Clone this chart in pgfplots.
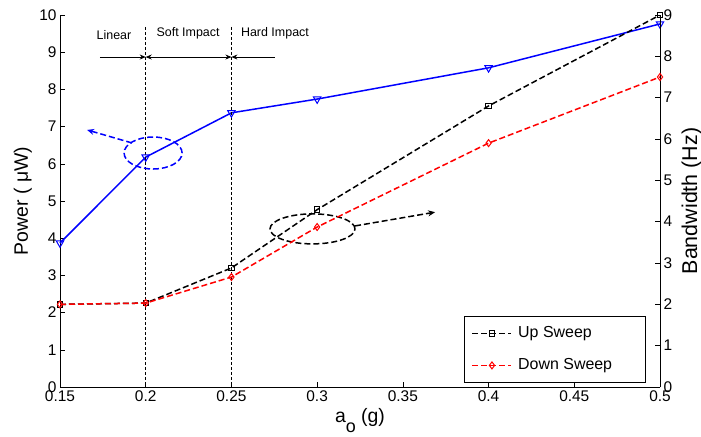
\documentclass[border=0pt]{standalone}
\usepackage{fontspec}
\setmainfont{Liberation Sans}
\usepackage{pgfplots}
\pgfplotsset{compat=1.18}
\usetikzlibrary{arrows.meta}

\definecolor{mblue}{RGB}{0,0,255}
\definecolor{mred}{RGB}{255,0,0}

\tikzset{mdash/.style={dash pattern=on 6bp off 3bp}}

\pgfplotsset{
  common/.style={
    scale only axis,
    width=600bp, height=372bp,
    xmin=0.15, xmax=0.5,
    tick align=inside,
    major tick length=5bp,
    tick style={black, line width=0.5bp},
    axis line style={black, line width=0.6bp},
    /pgf/number format/assume math mode=true,
    tick label style={font=\fontsize{15.5}{17}\selectfont},
  },
}

\begin{document}
\begin{tikzpicture}
% Power on the left axis
\begin{axis}[
  common,
  axis x line*=bottom, axis y line*=left,
  ymin=0, ymax=10,
  ytick={0,1,...,10},
  xtick={0.15,0.2,0.25,0.3,0.35,0.4,0.45,0.5},
  xticklabels={0.15,0.2,0.25,0.3,0.35,0.4,0.45,0.5},
  xlabel={a\raisebox{-0.55em}{\fontsize{18}{20}\selectfont o} (g)},
  xlabel style={font=\fontsize{19.5}{22}\selectfont,
    at={(axis description cs:0.5,0)}, anchor=base, yshift=-35bp},
  ylabel={Power ( μW)},
  % the label is rotated, so its own y points to the left
  ylabel style={font=\fontsize{19.5}{22}\selectfont,
    at={(axis description cs:0,0.5)}, anchor=base, yshift=32bp},
  clip=false,
]
\addplot[mblue, line width=1.5bp, mark=triangle, mark size=4.3bp,
  mark options={solid, rotate=180, line width=1bp}]
  coordinates {(0.15,3.87) (0.2,6.18) (0.25,7.37) (0.3,7.74) (0.4,8.58) (0.5,9.76)};

% regime boundaries
\draw[black, line width=0.7bp, dash pattern=on 3bp off 2bp]
  (axis cs:0.2,9.68) -- (axis cs:0.2,0);
\draw[black, line width=0.7bp, dash pattern=on 3bp off 2bp]
  (axis cs:0.25,9.68) -- (axis cs:0.25,0);
\draw[-{Stealth[length=6bp,width=5bp]}, line width=0.7bp]
  (axis cs:0.1733,8.87) -- (axis cs:0.2,8.87);
\draw[{Stealth[length=6bp,width=5bp]}-{Stealth[length=6bp,width=5bp]}, line width=0.7bp]
  (axis cs:0.2,8.87) -- (axis cs:0.25,8.87);
\draw[-{Stealth[length=6bp,width=5bp]}, line width=0.7bp]
  (axis cs:0.2754,8.87) -- (axis cs:0.25,8.87);
\begin{scope}[font=\fontsize{12.5}{14}\selectfont]
\node at (axis cs:0.1815,9.46) {Linear};
\node at (axis cs:0.2247,9.50) {Soft Impact};
\node at (axis cs:0.2754,9.50) {Hard Impact};
\end{scope}

% callouts pointing to the matching axis
\draw[mblue, line width=1.5bp, mdash] (axis cs:0.2043,6.29) ellipse [x radius=29bp, y radius=16bp];
\draw[mblue, line width=1.5bp, mdash, -{Stealth[length=7bp,width=6bp]}]
  (axis cs:0.192,6.56) -- (axis cs:0.1658,6.91);
\draw[black, line width=1.5bp, mdash] (axis cs:0.2973,4.25) ellipse [x radius=42.5bp, y radius=15bp];
\draw[black, line width=1.5bp, mdash, -{Stealth[length=7bp,width=6bp]}]
  (axis cs:0.3221,4.33) -- (axis cs:0.3688,4.70);
\end{axis}

% Bandwidth on the right axis
\begin{axis}[
  common,
  axis x line=none, axis y line*=right,
  ymin=0, ymax=9,
  ytick={0,1,...,9},
  ylabel={Bandwidth (Hz)},
  ylabel style={font=\fontsize{21.5}{24}\selectfont,
    at={(axis description cs:1,0.5)}, anchor=base, yshift=-37bp},
  legend style={at={(rel axis cs:0.9767,0.01075)}, anchor=south east,
    draw=black, line width=0.6bp, font=\fontsize{16}{18}\selectfont,
    inner xsep=7bp, inner ysep=9.5bp, row sep=16.5bp, column sep=6bp,
    nodes={inner sep=0pt, text height=12bp, text depth=3.5bp}},
  legend cell align=left,
  legend image code/.code={
    \draw[mark repeat=2, mark phase=2, #1] plot coordinates {(0bp,0bp) (19.5bp,0bp) (39bp,0bp)};
  },
]
\addplot[black, line width=1.5bp, mdash, mark=square, mark size=2.7bp,
  mark options={solid, line width=1bp}]
  coordinates {(0.15,2.0) (0.2,2.03) (0.25,2.88) (0.3,4.29) (0.4,6.80) (0.5,9.0)};
\addlegendentry{\makebox[120.5bp][l]{Up Sweep}}
\addplot[mred, line width=1.5bp, mdash, mark=diamond, mark size=3.5bp,
  mark options={solid, line width=1bp}]
  coordinates {(0.15,2.0) (0.2,2.03) (0.25,2.66) (0.3,3.87) (0.4,5.90) (0.5,7.50)};
\addlegendentry{\makebox[120.5bp][l]{Down Sweep}}
\end{axis}

\pgfresetboundingbox
\path[use as bounding box] (-60bp,-50bp) rectangle (641bp,387bp);
\end{tikzpicture}
\end{document}
